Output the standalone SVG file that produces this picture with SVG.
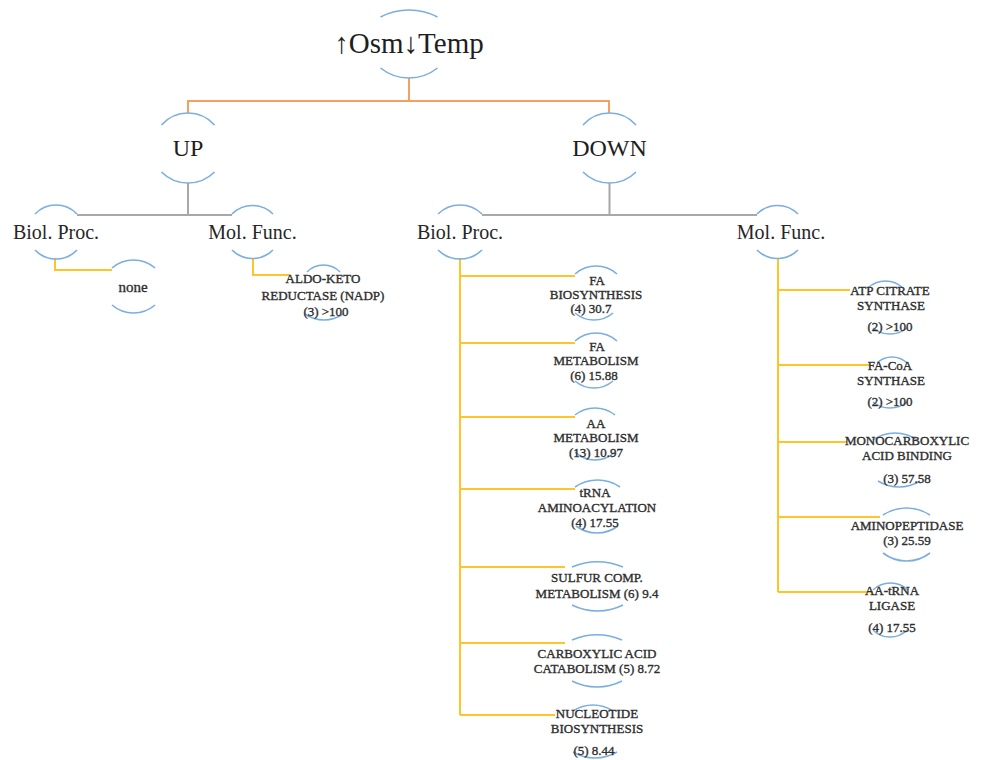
<svg xmlns="http://www.w3.org/2000/svg" width="981" height="760" viewBox="0 0 981 760">
<style>
.arc{fill:none;stroke:#7aaee0;stroke-width:1.6}
.or{fill:none;stroke:#f5a060;stroke-width:2}
.gr{fill:none;stroke:#a8a8a8;stroke-width:2}
.ye{fill:none;stroke:#ffc42a;stroke-width:2}
text{font-family:"Liberation Serif","DejaVu Serif",serif;text-anchor:middle}
.big{font-size:24px;fill:#1e1e1e}
.mid{font-size:20px;fill:#262626}
.sm{font-size:13px;fill:#2e2e2e;stroke:#2e2e2e;stroke-width:0.35}
</style>
<rect width="981" height="760" fill="#ffffff"/>
<g id="connectors">
<path class="or" d="M409 78V101M188 101H609M188 100V113M609 100V113"/>
<path class="gr" d="M188 183V215M77 215H232M609.5 183V215M482 215H757"/>
<path class="ye" d="M55 258V270H112"/>
<path class="ye" d="M253 258V275H290"/>
<path class="ye" d="M460 258V715M460 276H575M460 343H575M460 417H575M460 489H575M460 567H565M460 643H565M460 715H555"/>
<path class="ye" d="M778 258V592M778 290H850M778 365H870M778 442H847M778 517H880M778 592H873"/>
</g>
<g id="root">
<path class="arc" d="M380.5 17A61.5 61.5 0 0 1 437.5 17M380.5 68A45.6 45.6 0 0 0 437.5 68"/>
<text class="big" x="409" y="53" style="font-size:29px">↑Osm↓Temp</text>
</g>
<g id="up">
<path class="arc" d="M161.5 125A35.3 35.3 0 0 1 214.5 125M161.5 172A37.4 37.4 0 0 0 214.5 172"/>
<text class="big" x="188" y="156">UP</text>
</g>
<g id="down">
<path class="arc" d="M583 125A35.3 35.3 0 0 1 636 125M583 172A37.4 37.4 0 0 0 636 172"/>
<text class="big" x="609.5" y="156">DOWN</text>
</g>
<g id="up-biol">
<path class="arc" d="M35 214A29 29 0 0 1 77 214M35 250A29 29 0 0 0 77 250"/>
<text class="mid" x="56" y="239">Biol. Proc.</text>
</g>
<g id="up-mol">
<path class="arc" d="M232 214A29 29 0 0 1 273 214M232 250A29 29 0 0 0 273 250"/>
<text class="mid" x="252.5" y="239">Mol. Func.</text>
</g>
<g id="down-biol">
<path class="arc" d="M438 214A31.4 31.4 0 0 1 482 214M438 250A31.4 31.4 0 0 0 482 250"/>
<text class="mid" x="460" y="239">Biol. Proc.</text>
</g>
<g id="down-mol">
<path class="arc" d="M757 214A29 29 0 0 1 798 214M757 250A29 29 0 0 0 798 250"/>
<text class="mid" x="781" y="239">Mol. Func.</text>
</g>
<g id="none">
<path class="arc" d="M112 268A32.9 32.9 0 0 1 155 268M112 305A32.9 32.9 0 0 0 155 305"/>
<text class="sm" x="133" y="292" style="font-size:15px">none</text>
</g>
<g id="aldo">
<path class="arc" d="M307 272A22.9 22.9 0 0 1 340 272M305 314A33 33 0 0 0 343 314"/>
<text class="sm" x="323" y="283">ALDO-KETO</text>
<text class="sm" x="323" y="300">REDUCTASE (NADP)</text>
<text class="sm" x="326" y="316">(3) &gt;100</text>
</g>
<g id="fa-bio">
<path class="arc" d="M575 274A31.6 31.6 0 0 1 617 274M575 313A29.3 29.3 0 0 0 613 313"/>
<text class="sm" x="597" y="285">FA</text>
<text class="sm" x="596" y="299">BIOSYNTHESIS</text>
<text class="sm" x="591" y="313">(4) 30.7</text>
</g>
<g id="fa-met">
<path class="arc" d="M575 341A31.6 31.6 0 0 1 617 341M575 381A29.3 29.3 0 0 0 613 381"/>
<text class="sm" x="597" y="351">FA</text>
<text class="sm" x="596" y="365">METABOLISM</text>
<text class="sm" x="594" y="380">(6) 15.88</text>
</g>
<g id="aa-met">
<path class="arc" d="M575 415A32 32 0 0 1 615 415M575 452A29 29 0 0 0 615 452"/>
<text class="sm" x="596" y="428">AA</text>
<text class="sm" x="596" y="442">METABOLISM</text>
<text class="sm" x="596" y="457">(13) 10.97</text>
</g>
<g id="trna">
<path class="arc" d="M575 487A39.6 39.6 0 0 1 620 487M576 526A35 35 0 0 0 618 526"/>
<text class="sm" x="595" y="497">tRNA</text>
<text class="sm" x="597" y="512">AMINOACYLATION</text>
<text class="sm" x="595" y="527">(4) 17.55</text>
</g>
<g id="sulfur">
<path class="arc" d="M572 567A67.5 67.5 0 0 1 623 567M572 605A57.2 57.2 0 0 0 623 605"/>
<text class="sm" x="597" y="582">SULFUR COMP.</text>
<text class="sm" x="597" y="598">METABOLISM (6) 9.4</text>
</g>
<g id="carbox">
<path class="arc" d="M572 640A65 65 0 0 1 622 640M572 681A55 55 0 0 0 622 681"/>
<text class="sm" x="597" y="658">CARBOXYLIC ACID</text>
<text class="sm" x="597" y="673">CATABOLISM (5) 8.72</text>
</g>
<g id="nucleo">
<path class="arc" d="M573 711A36.3 36.3 0 0 1 613 711M573 752A43.3 43.3 0 0 0 617 752"/>
<text class="sm" x="597" y="718">NUCLEOTIDE</text>
<text class="sm" x="597" y="733">BIOSYNTHESIS</text>
<text class="sm" x="594" y="755">(5) 8.44</text>
</g>
<g id="atp">
<path class="arc" d="M868 288A25.4 25.4 0 0 1 903 288M873 328A27 27 0 0 0 907 328"/>
<text class="sm" x="890" y="295">ATP CITRATE</text>
<text class="sm" x="891" y="310">SYNTHASE</text>
<text class="sm" x="890" y="331">(2) &gt;100</text>
</g>
<g id="facoa">
<path class="arc" d="M877 363A21.75 21.75 0 0 1 907 363M873 402A27 27 0 0 0 907 402"/>
<text class="sm" x="890" y="370">FA-CoA</text>
<text class="sm" x="891" y="385">SYNTHASE</text>
<text class="sm" x="890" y="406">(2) &gt;100</text>
</g>
<g id="mono">
<path class="arc" d="M873 440A38 38 0 0 1 917 440M878 481A39.75 39.75 0 0 0 920 481"/>
<text class="sm" x="907" y="445">MONOCARBOXYLIC</text>
<text class="sm" x="907" y="460">ACID BINDING</text>
<text class="sm" x="907" y="483">(3) 57.58</text>
</g>
<g id="amino">
<path class="arc" d="M883 515A43 43 0 0 1 930 515M883 553A38.5 38.5 0 0 0 930 553"/>
<text class="sm" x="907" y="530">AMINOPEPTIDASE</text>
<text class="sm" x="907" y="545">(3) 25.59</text>
</g>
<g id="aatrna">
<path class="arc" d="M873 590A25.4 25.4 0 0 1 908 590M873 630A24 24 0 0 0 907 630"/>
<text class="sm" x="892" y="595">AA-tRNA</text>
<text class="sm" x="892" y="610">LIGASE</text>
<text class="sm" x="892" y="632">(4) 17.55</text>
</g>
</svg>
